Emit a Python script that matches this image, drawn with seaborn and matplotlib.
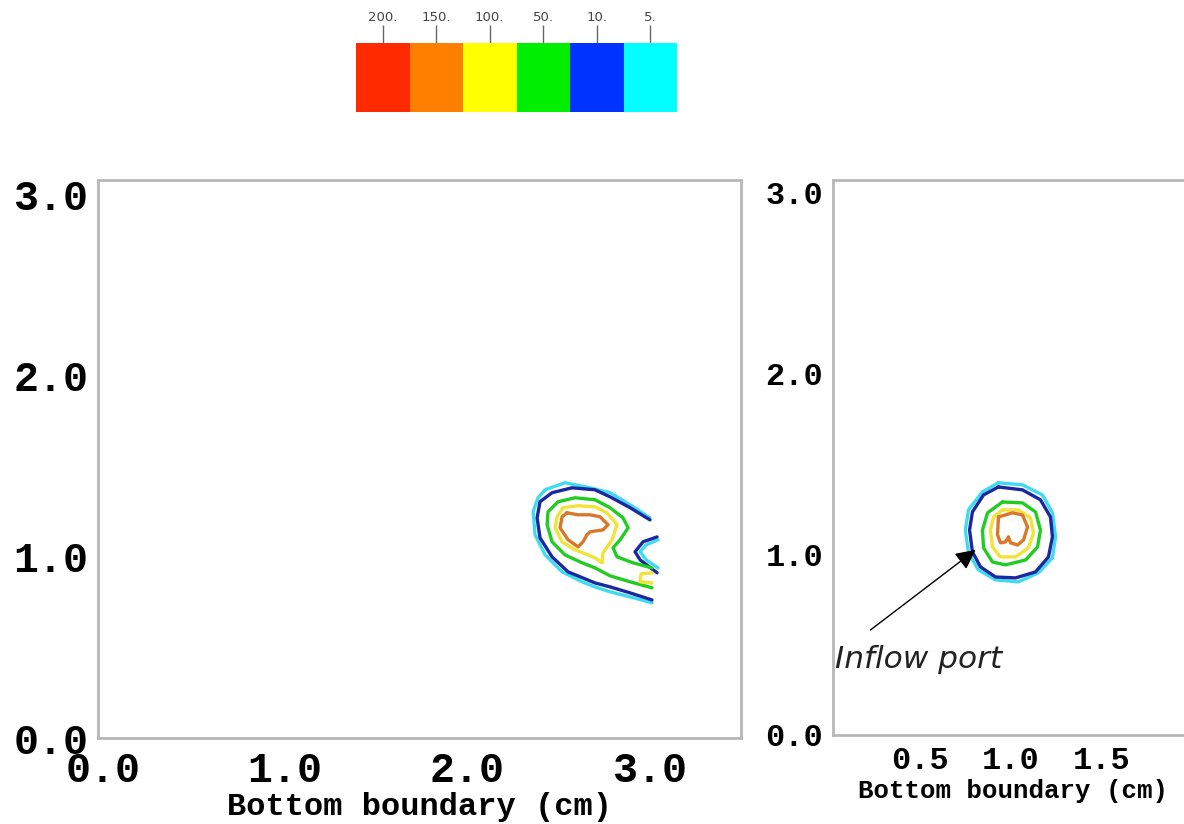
import numpy as np
import pandas as pd
import matplotlib
matplotlib.use("Agg")
import matplotlib.pyplot as plt
from matplotlib.colors import ListedColormap
import seaborn as sns

# ---------------- data ----------------
legend_labels = ["200.", "150.", "100.", "50.", "10.", "5."]
legend_colors = ["#ff2a00", "#ff8000", "#ffff00", "#00ee00", "#0033ff", "#00ffff"]

line_colors = {
    "5": "#3fdcf0",
    "10": "#1c28a0",
    "50": "#22cc22",
    "100": "#f2e23a",
    "150": "#d9782a",
}

# Left panel contours (x, y in cm)
L5_x = [3.005, 2.896, 2.786, 2.676, 2.538, 2.429, 2.390, 2.363, 2.374, 2.429, 2.522, 2.632, 2.703, 2.786, 2.896, 3.016]
L5_y = [1.215, 1.287, 1.354, 1.381, 1.409, 1.370, 1.326, 1.249, 1.122, 1.011, 0.917, 0.862, 0.834, 0.807, 0.779, 0.746]
L5n_x = [3.049, 2.984, 2.951, 2.984, 3.049]
L5n_y = [1.094, 1.066, 1.028, 0.983, 0.939]

L10_x = [3.005, 2.896, 2.786, 2.703, 2.577, 2.467, 2.401, 2.385, 2.401, 2.467, 2.555, 2.703, 2.786, 2.896, 3.016]
L10_y = [1.204, 1.271, 1.331, 1.370, 1.381, 1.354, 1.304, 1.215, 1.105, 1.000, 0.917, 0.856, 0.834, 0.801, 0.762]
L10n_x = [3.044, 2.967, 2.923, 2.951, 3.044]
L10n_y = [1.110, 1.083, 1.028, 0.983, 0.912]

L50_x = [3.016, 2.912, 2.824, 2.802, 2.841, 2.885, 2.857, 2.786, 2.703, 2.593, 2.500, 2.445, 2.440,
         2.467, 2.538, 2.632, 2.703, 2.786, 2.896, 3.016]
L50_y = [0.939, 0.967, 1.000, 1.050, 1.094, 1.160, 1.215, 1.271, 1.315, 1.326, 1.304, 1.249, 1.177,
         1.083, 1.011, 0.967, 0.939, 0.895, 0.862, 0.829]

L100_x = [2.527, 2.610, 2.703, 2.769, 2.824, 2.797, 2.747, 2.742, 2.703, 2.593, 2.522, 2.484, 2.495, 2.527]
L100_y = [1.271, 1.282, 1.276, 1.243, 1.177, 1.094, 1.022, 0.967, 0.995, 1.039, 1.083, 1.160, 1.221, 1.271]
L100b_x = [3.016, 2.956, 2.951, 3.016]
L100b_y = [0.912, 0.906, 0.862, 0.856]

L150_x = [2.549, 2.610, 2.676, 2.731, 2.775, 2.747, 2.676, 2.659, 2.637, 2.610, 2.555, 2.511, 2.522, 2.549]
L150_y = [1.243, 1.232, 1.232, 1.221, 1.177, 1.149, 1.138, 1.122, 1.083, 1.055, 1.094, 1.160, 1.221, 1.243]

# Right panel contours (x, y in cm)
R5_x = [0.930, 1.062, 1.172, 1.227, 1.244, 1.227, 1.150, 1.040, 0.914, 0.820, 0.765, 0.748, 0.765, 0.842, 0.930]
R5_y = [1.395, 1.384, 1.328, 1.229, 1.096, 0.980, 0.897, 0.847, 0.858, 0.913, 1.007, 1.134, 1.245, 1.345, 1.395]
R10_x = [0.930, 1.062, 1.161, 1.216, 1.227, 1.205, 1.134, 1.024, 0.914, 0.831, 0.787, 0.771, 0.787, 0.848, 0.930]
R10_y = [1.372, 1.356, 1.301, 1.206, 1.096, 0.985, 0.902, 0.869, 0.874, 0.930, 1.013, 1.134, 1.234, 1.328, 1.372]
R50_x = [0.952, 1.062, 1.134, 1.161, 1.145, 1.079, 0.969, 0.897, 0.848, 0.842, 0.870, 0.952]
R50_y = [1.289, 1.284, 1.234, 1.134, 1.040, 0.968, 0.941, 0.957, 1.035, 1.134, 1.229, 1.289]
R100_x = [0.952, 1.040, 1.106, 1.123, 1.095, 1.024, 0.941, 0.897, 0.886, 0.903, 0.952]
R100_y = [1.245, 1.245, 1.201, 1.118, 1.035, 0.985, 0.985, 1.040, 1.134, 1.206, 1.245]
R150_x = [0.930, 1.007, 1.062, 1.090, 1.068, 1.035, 0.996, 0.985, 0.969, 0.941, 0.925, 0.930]
R150_y = [1.206, 1.229, 1.217, 1.151, 1.079, 1.051, 1.063, 1.096, 1.068, 1.063, 1.107, 1.206]

left_yticks = [0.0, 1.0, 2.0, 3.0]
left_xticks = [0.0, 1.0, 2.0, 3.0]
right_yticks = [0.0, 1.0, 2.0, 3.0]
right_xticks = [0.5, 1.0, 1.5]
xlabel_text = "Bottom boundary (cm)"
annot_text = "Inflow port"

# ---------------- style ----------------
sns.set_theme(style="white")
plt.rcParams["font.family"] = ["Liberation Mono", "DejaVu Sans"]
plt.rcParams["text.color"] = "black"
plt.rcParams["axes.labelcolor"] = "black"

W, H = 1184, 824
fig = plt.figure(figsize=(W / 100, H / 100), dpi=100)

spine_col = "#b8b8b8"


def px_axes(x0, x1, ytop, ybot):
    return fig.add_axes([x0 / W, 1 - ybot / H, (x1 - x0) / W, (ybot - ytop) / H])


def style_axes(ax, tick_size, xpad):
    for s in ax.spines.values():
        s.set_color(spine_col)
        s.set_linewidth(2)
    ax.tick_params(axis="both", which="both", direction="out", color="#a0a0a0",
                   length=5, width=1, labelsize=tick_size, labelcolor="black", pad=2)
    ax.tick_params(axis="x", which="both", pad=xpad)
    for lab in ax.get_xticklabels() + ax.get_yticklabels():
        lab.set_fontweight("bold")
        lab.set_family(["Liberation Mono", "DejaVu Sans"])


def draw(ax, xs, ys, key):
    df = pd.DataFrame({"x": xs, "y": ys})
    sns.lineplot(data=df, x="x", y="y", sort=False, estimator=None, ax=ax,
                 color=line_colors[key], linewidth=2.4)


# ---------------- left panel ----------------
axL = px_axes(98, 741, 180, 738)
for xs, ys, k in [(L5_x, L5_y, "5"), (L5n_x, L5n_y, "5"), (L10_x, L10_y, "10"), (L10n_x, L10n_y, "10"),
                  (L50_x, L50_y, "50"), (L100_x, L100_y, "100"), (L100b_x, L100b_y, "100"),
                  (L150_x, L150_y, "150")]:
    draw(axL, xs, ys, k)
axL.set_xlim(-0.027, 3.505)
axL.set_ylim(0, 3.08)
axL.set_xticks(left_xticks)
axL.set_xticklabels([f"{v:.1f}" for v in left_xticks])
axL.set_yticks(left_yticks)
axL.set_yticklabels([f"{v:.1f}" for v in left_yticks])
axL.set_xticks([0.5, 1.5, 2.5], minor=True)
axL.set_yticks([0.5, 1.5, 2.5], minor=True)
axL.set_xlabel(xlabel_text, fontsize=23, fontweight="bold", labelpad=1, color="black")
axL.set_ylabel("")
style_axes(axL, 30, 4)

# ---------------- right panel ----------------
axR = px_axes(833, 1193, 180, 735)
for xs, ys, k in [(R5_x, R5_y, "5"), (R10_x, R10_y, "10"), (R50_x, R50_y, "50"),
                  (R100_x, R100_y, "100"), (R150_x, R150_y, "150")]:
    draw(axR, xs, ys, k)
axR.set_xlim(0.02, 2.0)
axR.set_ylim(0, 3.07)
axR.set_xticks(right_xticks)
axR.set_xticklabels([f"{v:.1f}" for v in right_xticks])
axR.set_yticks(right_yticks)
axR.set_yticklabels([f"{v:.1f}" for v in right_yticks])
axR.set_yticks([0.5, 1.5, 2.5], minor=True)
axR.set_xlabel(xlabel_text, fontsize=18.5, fontweight="bold", labelpad=2, color="black")
axR.set_ylabel("")
style_axes(axR, 23, 3)
axR.spines["right"].set_visible(False)

axR.annotate("", xy=(0.804, 1.024), xytext=(0.226, 0.581),
             arrowprops=dict(arrowstyle="-|>", color="black", lw=1.0, mutation_scale=30,
                             shrinkA=0, shrinkB=0))
axR.text(0.03, 0.415, annot_text, fontsize=22.5, style="italic", family="DejaVu Sans",
         color="#222222", va="center", ha="left")

# ---------------- colour legend bar ----------------
cax = px_axes(356, 677, 43, 112)
sns.heatmap(np.arange(len(legend_colors)).reshape(1, -1), cmap=ListedColormap(legend_colors),
            cbar=False, ax=cax, xticklabels=legend_labels, yticklabels=False)
cax.xaxis.tick_top()
cax.tick_params(axis="x", which="both", top=True, bottom=False, length=13, width=1,
                color="#666666", labelsize=9.5, labelcolor="#444444", pad=1, rotation=0)
for lab in cax.get_xticklabels():
    lab.set_family("DejaVu Sans")
cax.set_xlabel("")
cax.set_ylabel("")

fig.savefig("out.png", dpi=100)
